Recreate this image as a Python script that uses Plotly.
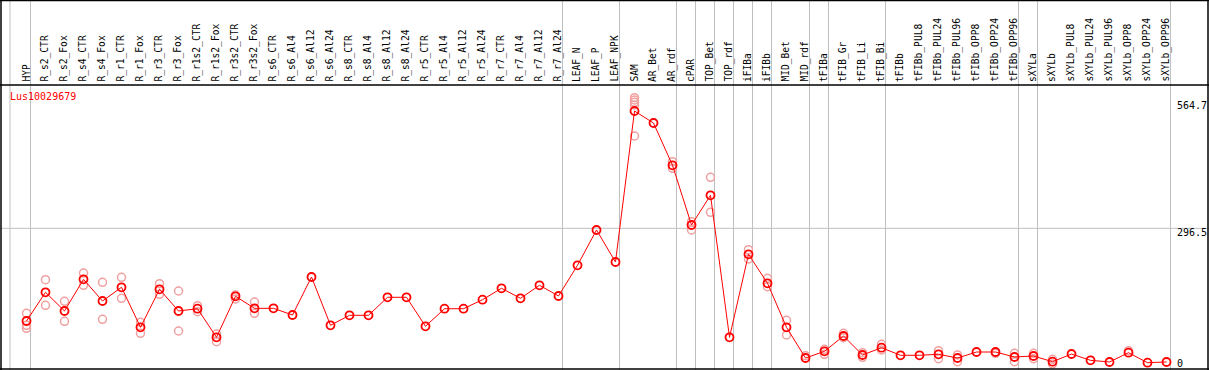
import plotly.graph_objects as go

gene = "Lus10029679"

categories = [
    "HYP", "R_s2_CTR", "R_s2_Fox", "R_s4_CTR", "R_s4_Fox", "R_r1_CTR", "R_r1_Fox",
    "R_r3_CTR", "R_r3_Fox", "R_r1s2_CTR", "R_r1s2_Fox", "R_r3s2_CTR", "R_r3s2_Fox",
    "R_s6_CTR", "R_s6_Al4", "R_s6_Al12", "R_s6_Al24", "R_s8_CTR", "R_s8_Al4",
    "R_s8_Al12", "R_s8_Al24", "R_r5_CTR", "R_r5_Al4", "R_r5_Al12", "R_r5_Al24",
    "R_r7_CTR", "R_r7_Al4", "R_r7_Al12", "R_r7_Al24", "LEAF_N", "LEAF_P", "LEAF_NPK",
    "SAM", "AR_Bet", "AR_rdf", "cPAR", "TOP_Bet", "TOP_rdf", "iFIBa", "iFIBb",
    "MID_Bet", "MID_rdf", "tFIBa", "tFIB_Gr", "tFIB_Li", "tFIB_Bi", "tFIBb",
    "tFIBb_PUL8", "tFIBb_PUL24", "tFIBb_PUL96", "tFIBb_OPP8", "tFIBb_OPP24",
    "tFIBb_OPP96", "sXYLa", "sXYLb", "sXYLb_PUL8", "sXYLb_PUL24", "sXYLb_PUL96",
    "sXYLb_OPP8", "sXYLb_OPP24", "sXYLb_OPP96",
]

means = [
    84.6, 150.2, 107.5, 179.9, 130.3, 161.7, 70.2, 157.1, 107.5, 112.7, 47.3, 141.1, 113.6,
    113.6, 98.3, 185.2, 74.8, 97.6, 97.6, 138.8, 138.8, 72.5, 112.7, 112.7, 133.3,
    159.4, 136.5, 166.2, 141.8, 212.0, 292.7, 219.5,
    564.7, 537.3, 440.6, 304.1, 372.0, 47.3, 237.1, 170.8,
    70.2, 0.0, 15.3, 50.3, 6.9, 23.6, 6.2,
    6.2, 8.5, 0.0, 13.7, 13.7,
    2.3, 4.6, -8.5, 9.1, -5.3, -9.1,
    12.1, -10.7, -9.1,
]

replicates = [
    [102.2, 74.8, 67.9], [179.0, 120.5], [129.6, 83.9], [194.3, 166.2], [173.1, 88.5],
    [184.5, 136.5], [81.6, 56.5], [169.9, 145.6], [153.2, 61.7], [119.6, 105.9],
    [54.9, 37.3], [144.0, 134.9], [128.0, 102.2],
    [], [], [], [], [], [], [], [], [], [], [], [], [], [], [], [], [], [], [],
    [595.2, 589.9, 584.6, 578.5, 507.6], [], [448.8, 433.7], [311.6, 292.7],
    [413.2, 333.1], [], [247.6, 226.4], [182.2, 163.0],
    [86.2, 52.6], [5.3], [19.9, 8.5], [56.5, 46.4], [12.1, 1.6], [31.3, 18.3], [],
    [], [16.7, -1.6], [6.9, -8.5], [], [10.7],
    [10.7, -8.5], [10.7, -1.6], [-3.0, -13.7], [], [], [],
    [16.7], [], [],
]

group_ends = [0, 28, 31, 34, 35, 36, 37, 38, 39, 41, 42, 45, 52, 53, 60]
group_start = -0.87

axis_values = [564.7, 296.5, 0]
axis_labels = ["564.7", "296.5", "0"]

W, H = 1209, 370
X_MIN, X_MAX = -1.3947, 62.2368
Y_MIN, Y_MAX = -27.44, 818.55
MONO = "DejaVu Sans Mono"

rep_x, rep_y = [], []
for i, vals in enumerate(replicates):
    for v in vals:
        rep_x.append(i)
        rep_y.append(v)

fig = go.Figure()

fig.add_trace(go.Scatter(
    x=rep_x, y=rep_y, mode="markers",
    marker=dict(symbol="circle-open", size=8, color="#f0a0a0", line=dict(width=1.5, color="#f0a0a0")),
    hoverinfo="skip", cliponaxis=False,
))
fig.add_trace(go.Scatter(
    x=list(range(len(categories))), y=means, mode="lines+markers",
    line=dict(color="#ff0000", width=1),
    marker=dict(symbol="circle-open", size=8, color="#ff0000", line=dict(width=1.8, color="#ff0000")),
    text=categories, hovertemplate="%{text}: %{y}<extra></extra>", cliponaxis=False,
))

shapes = []
# grey group separators
for g in [group_start] + [e + 0.21 for e in group_ends]:
    shapes.append(dict(type="line", xref="x", yref="paper", x0=g, x1=g, y0=0, y1=1,
                       line=dict(color="#c0c0c0", width=1), layer="below"))
# grey mid gridline
shapes.append(dict(type="line", xref="paper", yref="y", x0=0, x1=1, y0=axis_values[1], y1=axis_values[1],
                   line=dict(color="#c0c0c0", width=1), layer="below"))


def px_y(p):
    return 1 - p / H


def px_x(p):
    return p / W


# black frame
for (x0, y0, x1, y1) in [
    (0, 0.5, W, 0.5),        # top
    (0, 85, W, 85),          # header separator
    (0, 369, W, 369),        # bottom
]:
    shapes.append(dict(type="line", xref="paper", yref="paper", x0=px_x(x0), x1=px_x(x1),
                       y0=px_y(y0), y1=px_y(y1), line=dict(color="black", width=1.5)))
for xp in [1, 1208]:
    shapes.append(dict(type="line", xref="paper", yref="paper", x0=px_x(xp), x1=px_x(xp),
                       y0=0, y1=1, line=dict(color="black", width=1.5)))

annotations = []
for i, c in enumerate(categories):
    annotations.append(dict(
        x=i - 0.05, xref="x", y=px_y(84), yref="paper", text=c, showarrow=False,
        textangle=-90, xanchor="center", yanchor="bottom",
        font=dict(family=MONO, size=9.6, color="black"),
    ))

annotations.append(dict(
    x=px_x(8), xref="paper", y=px_y(89), yref="paper", text=gene, showarrow=False,
    xanchor="left", yanchor="top", font=dict(family=MONO, size=10, color="#ff0000"),
))

anchors = ["bottom", "top", "top"]
shifts = [-2, 3, 2]
for v, lab, anc, sh in zip(axis_values, axis_labels, anchors, shifts):
    annotations.append(dict(
        x=px_x(1175), xref="paper", y=v, yref="y", text=lab, showarrow=False,
        xanchor="left", yanchor=anc, yshift=sh, font=dict(family=MONO, size=10, color="black"),
    ))

fig.update_layout(
    width=W, height=H, margin=dict(l=0, r=0, t=0, b=0, pad=0),
    paper_bgcolor="white", plot_bgcolor="white", showlegend=False,
    xaxis=dict(range=[X_MIN, X_MAX], visible=False, fixedrange=True),
    yaxis=dict(range=[Y_MIN, Y_MAX], visible=False, fixedrange=True),
    shapes=shapes, annotations=annotations,
)

fig.write_html(
    "out.html",
    config={"displayModeBar": False},
    post_script="document.body.style.margin='0px';document.body.style.overflow='hidden';",
)
